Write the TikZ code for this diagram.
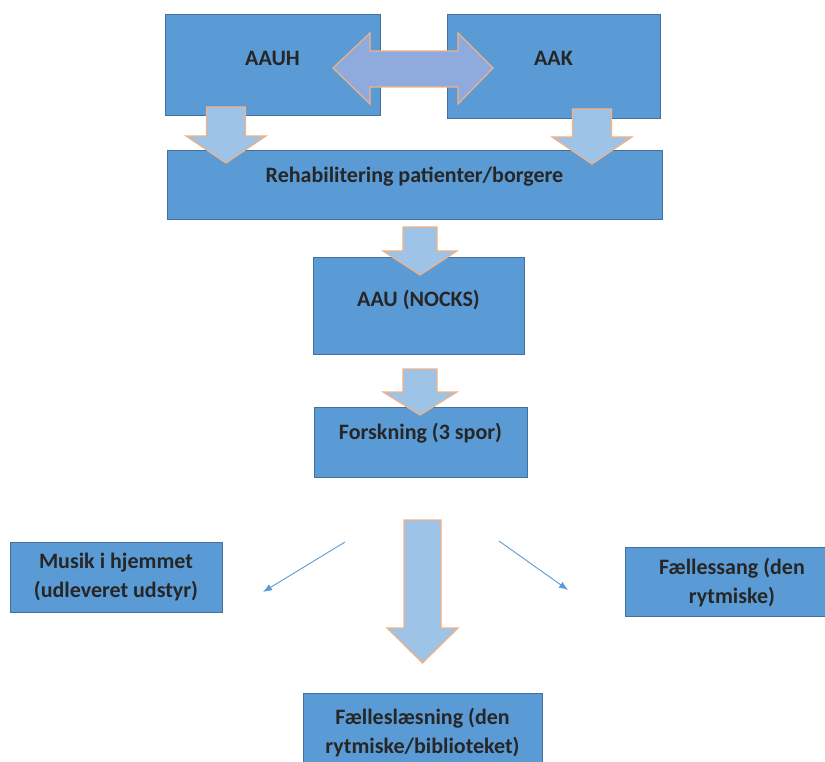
\documentclass[tikz,border=0pt]{standalone}
\usepackage{fontspec}
\setmainfont{Carlito}
\usetikzlibrary{arrows.meta, calc, positioning}
\definecolor{boxFill}{HTML}{5B9BD5}
\definecolor{boxLine}{HTML}{41719C}
\definecolor{arrFill}{HTML}{9DC3E6}
\definecolor{arrLine}{HTML}{F4B183}
\definecolor{dblFill}{HTML}{8FAADC}
\tikzset{
    box/.style={rectangle, draw=boxLine, fill=boxFill, line width=0.8pt, inner sep=0pt},
    boxtxt/.style={font=\fontsize{22}{29}\selectfont\bfseries, text=black!85, align=center, inner sep=0pt},
    txt/.style 2 args={label={[boxtxt, yshift=#1pt]center:{#2}}},
    blockArr/.style={draw=arrLine, fill=arrFill, line width=1.2pt, line join=miter},
    thinArr/.style={-{Latex[length=9pt, width=7pt]}, draw=boxFill, line width=0.9pt},
}
% #2 = x of centre, #3 = top, #4 = tip, #5 = head length, #6 = half shaft, #7 = half head
\newcommand{\blockArrow}[7][]{
    \draw[blockArr, #1] (#2-#6,#3) -- (#2+#6,#3) -- (#2+#6,#4-#5) -- (#2+#7,#4-#5)
        -- (#2,#4) -- (#2-#7,#4-#5) -- (#2-#6,#4-#5) -- cycle;
}

\begin{document}
\begin{tikzpicture}[x=1pt, y=-1pt]
    \useasboundingbox (0,0) rectangle (825,762);

    \node[box, minimum width=215, minimum height=101, txt={6.5}{AAUH}] (aauh) at (272.5,64.5) {};
    \node[box, minimum width=213, minimum height=104, txt={8}{AAK}] (aak) at (553.5,66) {};
    \node[box, minimum width=495, minimum height=69, txt={7.5}{Rehabilitering patienter/borgere}] (rehab) at (414.5,184.5) {};
    \node[box, minimum width=211, minimum height=97, txt={5.5}{AAU (NOCKS)}] (aau) at (418.5,305.5) {};
    \node[box, minimum width=213, minimum height=70, txt={9}{Forskning (3 spor)}] (forsk) at (420.5,442) {};
    \node[box, minimum width=212, minimum height=70, txt={0}{Musik i hjemmet\\(udleveret udstyr)}] (musik) at (116,577) {};
    \node[box, minimum width=214, minimum height=69, txt={-1.5}{Fællessang (den\\rytmiske)}] (sang) at (732,581.5) {};
    \node[box, minimum width=239, minimum height=72, txt={-3.5}{Fælleslæsning (den\\rytmiske/biblioteket)}] (laes) at (422.5,729) {};

    % block arrows between the boxes
    \draw[blockArr, fill=dblFill] (333,68) -- (370,33) -- (370,51) -- (458,51) -- (458,33)
        -- (493,68) -- (458,104) -- (458,87) -- (370,87) -- (370,104) -- cycle;
    \blockArrow{226}{107}{163}{27}{19.5}{40}
    \blockArrow{592}{109}{164}{27}{19.5}{40}
    \blockArrow{420}{227}{275}{24}{17}{37}
    \blockArrow{420}{369}{415}{23}{17}{37}
    \blockArrow{422.5}{520}{663}{35}{18.5}{35.5}

    % thin arrows to the side boxes
    \coordinate (lfrom) at (345,542);
    \coordinate (lto) at (263,592);
    \coordinate (rfrom) at (499,541);
    \coordinate (rto) at (568,590);
    \draw[thinArr] (lfrom) -- (lto);
    \draw[thinArr] (rfrom) -- (rto);

\end{tikzpicture}
\end{document}
